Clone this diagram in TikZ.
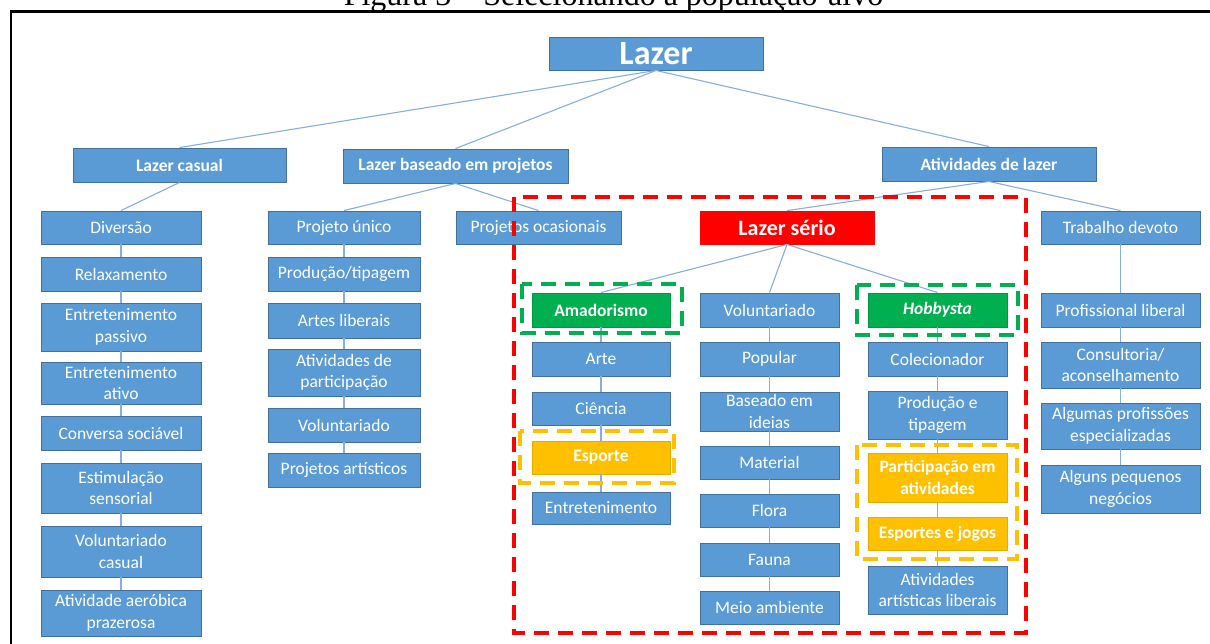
\documentclass[tikz,border=0pt]{standalone}
\usepackage{fontspec}
\setmainfont{Carlito}
\newfontfamily\capfont{Liberation Serif}
\definecolor{boxblue}{HTML}{5B9BD5}
\definecolor{boxedge}{HTML}{41719C}
\definecolor{linkblue}{HTML}{86AEDD}
\definecolor{okgreen}{HTML}{00B050}
\definecolor{amber}{HTML}{FFC000}
\definecolor{alert}{HTML}{FF0000}
\begin{document}
\begin{tikzpicture}[x=1pt,y=-1pt,
  box/.style={draw=boxedge, line width=0.9pt, fill=boxblue, text=white,
    inner sep=0pt, align=center, font=\fontsize{17.5}{21.5}\selectfont},
  hdr/.style={box, font=\fontsize{17.5}{21.5}\selectfont\bfseries},
  grn/.style={box, fill=okgreen, draw=okgreen!85!black, font=\fontsize{17.5}{21.5}\selectfont\bfseries},
  ylw/.style={box, fill=amber, draw=amber!90!black, font=\fontsize{17.5}{21.5}\selectfont\bfseries},
  link/.style={draw=linkblue, line width=1.1pt},
  zone/.style={line width=4pt, dash pattern=on 15pt off 9pt},
  colA/.style={minimum width=160pt},
  colB/.style={minimum width=152pt},
  colC/.style={minimum width=138pt},
  colD/.style={minimum width=139pt},
  colE/.style={minimum width=139pt},
  colF/.style={minimum width=159pt}
]
\useasboundingbox (0,0) rectangle (1210,643);
\clip (0,0) rectangle (1210,643);

% caption above the frame
\node[anchor=base, inner sep=0pt, font=\capfont\fontsize{32}{36}\selectfont] (title) at (613.5,5) {Figura 3 – Selecionando a população-alvo};
% frame
\draw[line width=2.6pt] (11,700) -- (11,11.5) -- (1300,11.5);

% top levels
\node[box, minimum width=214pt, minimum height=33pt, font=\fontsize{34}{38}\selectfont\bfseries] (top) at (656,53.5) {Lazer};
\node[hdr, minimum width=213pt, minimum height=34pt] (lc) at (179.5,165) {Lazer casual};
\node[hdr, minimum width=225pt, minimum height=34pt] (lp) at (455.5,166) {Lazer baseado em projetos};
\node[hdr, minimum width=214pt, minimum height=34pt] (la) at (989,164) {Atividades de lazer};

% casual leisure
\node[box, colA, minimum height=33pt] (a1) at (121,227.5) {Diversão};
\node[box, colA, minimum height=34pt] (a2) at (121,274) {Relaxamento};
\node[box, colA, minimum height=48pt] (a3) at (121,327) {Entretenimento\\passivo};
\node[box, colA, minimum height=42pt] (a4) at (121,383) {Entretenimento\\ativo};
\node[box, colA, minimum height=34pt] (a5) at (121,433) {Conversa sociável};
\node[box, colA, minimum height=50pt] (a6) at (121,488) {Estimulação\\sensorial};
\node[box, colA, minimum height=51pt] (a7) at (121,551.5) {Voluntariado\\casual};
\node[box, colA, minimum height=46pt] (a8) at (121,613) {Atividade aeróbica\\prazerosa};

% project-based leisure
\node[box, colB, minimum height=33pt] (b1) at (344,227.5) {Projeto único};
\node[box, colB, minimum height=34pt] (b2) at (344,274) {Produção/tipagem};
\node[box, colB, minimum height=35pt] (b3) at (344,320.5) {Artes liberais};
\node[box, colB, minimum height=47pt] (b4) at (344,372.5) {Atividades de\\participação};
\node[box, colB, minimum height=34pt] (b5) at (344,425) {Voluntariado};
\node[box, colB, minimum height=34pt] (b6) at (344,470) {Projetos artísticos};
\node[box, minimum width=165pt, minimum height=33pt] (po) at (538.5,227.5) {Projetos ocasionais};

% serious leisure
\node[box, fill=alert, draw=alert, minimum width=174pt, minimum height=33pt, font=\fontsize{22}{26}\selectfont\bfseries] (ls) at (787,227.5) {Lazer sério};

\node[grn, colC, minimum height=34pt] (c1) at (601,310) {Amadorismo};
\node[box, colC, minimum height=34pt] (c2) at (601,359) {Arte};
\node[box, colC, minimum height=33pt] (c3) at (601,408.5) {Ciência};
\node[ylw, colC, minimum height=33pt] (c4) at (601,457.5) {Esporte};
\node[box, colC, minimum height=32pt] (c5) at (601,508) {Entretenimento};

\node[box, colD, minimum height=34pt] (d1) at (769.5,310) {Voluntariado};
\node[box, colD, minimum height=34pt] (d2) at (769.5,359) {Popular};
\node[box, colD, minimum height=39pt] (d3) at (769.5,411.5) {Baseado em\\ideias};
\node[box, colD, minimum height=33pt] (d4) at (769.5,462.5) {Material};
\node[box, colD, minimum height=33pt] (d5) at (769.5,510.5) {Flora};
\node[box, colD, minimum height=33pt] (d6) at (769.5,559.5) {Fauna};
\node[box, colD, minimum height=33pt] (d7) at (769.5,607.5) {Meio ambiente};

\node[grn, colE, minimum height=34pt, font=\fontsize{17.5}{21.5}\selectfont\bfseries\itshape] (e1) at (937.5,310) {Hobbysta};
\node[box, colE, minimum height=34pt] (e2) at (937.5,359) {Colecionador};
\node[box, colE, minimum height=48pt] (e3) at (937.5,415) {Produção e\\tipagem};
\node[ylw, colE, minimum height=49pt] (e4) at (937.5,477.5) {Participação em\\atividades};
\node[ylw, colE, minimum height=33pt] (e5) at (937.5,533.5) {Esportes e jogos};
\node[box, colE, minimum height=48pt] (e6) at (937.5,590) {Atividades\\artísticas liberais};

% devoted work
\node[box, colF, minimum height=33pt] (f1) at (1120.5,227.5) {Trabalho devoto};
\node[box, colF, minimum height=34pt] (f2) at (1120.5,310) {Profissional liberal};
\node[box, colF, minimum height=46pt] (f3) at (1120.5,365) {Consultoria/\\aconselhamento};
\node[box, colF, minimum height=46pt] (f4) at (1120.5,426) {Algumas profissões\\especializadas};
\node[box, colF, minimum height=48pt] (f5) at (1120.5,489) {Alguns pequenos\\negócios};

% tree links
\foreach \p/\c in {top/lc, top/lp, top/la, lc/a1, lp/b1, lp/po, la/ls, la/f1,
    ls/c1, ls/d1, ls/e1,
    a1/a2, a2/a3, a3/a4, a4/a5, a5/a6, a6/a7, a7/a8,
    b1/b2, b2/b3, b3/b4, b4/b5, b5/b6,
    c1/c2, c2/c3, c3/c4, c4/c5,
    d1/d2, d2/d3, d3/d4, d4/d5, d5/d6, d6/d7,
    e1/e2, e2/e3, e3/e4, e4/e5, e5/e6,
    f1/f2, f2/f3, f3/f4, f4/f5}
  \draw[link] (\p.south) -- (\c.north);

% highlighted groups
\coordinate (r1) at (514,197);   \coordinate (r2) at (1026,633);
\coordinate (g1) at (522,284);   \coordinate (g2) at (682,333);
\coordinate (h1) at (857,285);   \coordinate (h2) at (1018,335);
\coordinate (y1) at (520,431);   \coordinate (y2) at (674,483);
\coordinate (z1) at (857,445);   \coordinate (z2) at (1017,559);
\draw[zone, alert] (r1) rectangle (r2);
\draw[zone, okgreen] (g1) rectangle (g2);
\draw[zone, okgreen] (h1) rectangle (h2);
\draw[zone, amber] (y1) rectangle (y2);
\draw[zone, amber] (z1) rectangle (z2);
\end{tikzpicture}
\end{document}
